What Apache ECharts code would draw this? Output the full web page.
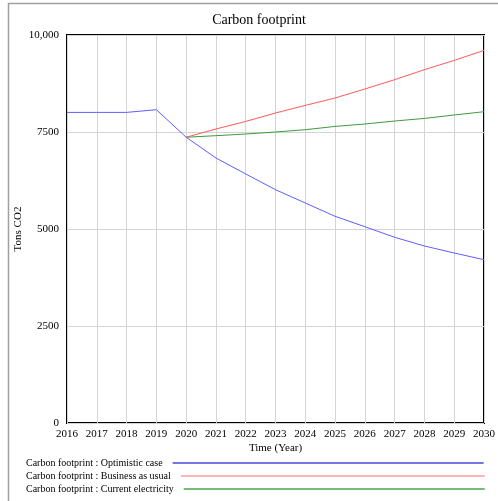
<!DOCTYPE html>
<html>
<head>
<meta charset="utf-8">
<script src="https://cdn.jsdelivr.net/npm/echarts@6/dist/echarts.min.js"></script>
<style>
html,body{margin:0;padding:0;background:#fff;}
#chart{width:498px;height:501px;}
</style>
</head>
<body>
<div id="chart"></div>
<script>
const years = [2016,2017,2018,2019,2020,2021,2022,2023,2024,2025,2026,2027,2028,2029,2030];
const optimistic = [8005,8005,8005,8075,7365,6830,6418,6013,5670,5327,5060,4786,4562,4381,4209];
const businessAsUsual = [null,null,null,null,7365,7577,7773,7990,8186,8376,8608,8848,9106,9345,9603];
const currentElectricity = [null,null,null,null,7365,7405,7448,7500,7559,7644,7706,7783,7850,7938,8023];
const seriesNames = ['Carbon footprint : Optimistic case','Carbon footprint : Business as usual','Carbon footprint : Current electricity'];
const yTickLabels = {0:'0',2500:'2500',5000:'5000',7500:'7500',10000:'10,000'};

const pairs = arr => years.map((y,i)=>[y,arr[i]]);
const serif = '"Liberation Serif","DejaVu Serif",serif';
const lineColors = ['#5e5eff','#ff5a5a','#3f9a3f'];
const legendColors = ['#4848d8','#ff9c9c','#45a845'];
const legendTops = [458,471,484];
const legendWidths = [311,304,301];

const chart = echarts.init(document.getElementById('chart'));
chart.setOption({
  animation:false,
  backgroundColor:'#fff',
  title:{text:'Carbon footprint',left:254,top:8,textAlign:'center',
    textStyle:{fontFamily:serif,fontSize:14,fontWeight:'normal',color:'#000'}},
  graphic:[
    {type:'line',shape:{x1:8,y1:3.5,x2:498,y2:3.5},style:{stroke:'#a0a0a0',lineWidth:1.5}},
    {type:'line',shape:{x1:8.5,y1:3,x2:8.5,y2:501},style:{stroke:'#a0a0a0',lineWidth:1.5}}
  ],
  legend: seriesNames.map((n,i)=>({
    data:[{name:n,itemStyle:{color:legendColors[i]}}],
    left:26, top:legendTops[i], align:'right', orient:'horizontal',
    icon:'rect', itemWidth:legendWidths[i], itemHeight:1.5, itemGap:0,
    padding:0, selectedMode:false,
    textStyle:{fontFamily:serif,fontSize:10,color:'#000',padding:[0,5,0,0]}
  })),
  grid:{left:67,right:14,top:35,bottom:78,show:true,borderColor:'#000',borderWidth:2},
  xAxis:{type:'value',min:2016,max:2030,interval:1,
    name:'Time (Year)',nameLocation:'middle',nameGap:20,nameMoveOverlap:false,
    nameTextStyle:{fontFamily:serif,fontSize:11,color:'#000'},
    axisLine:{show:false},axisTick:{show:false},
    axisLabel:{fontFamily:serif,fontSize:11,color:'#000',margin:6,formatter:v=>String(v)},
    splitLine:{show:true,lineStyle:{color:'#d4d4d4',width:1}}},
  yAxis:{type:'value',min:0,max:10000,interval:2500,
    name:'Tons CO2',nameLocation:'middle',nameGap:43,nameRotate:90,nameMoveOverlap:false,
    nameTextStyle:{fontFamily:serif,fontSize:11,color:'#000'},
    axisLine:{show:false},axisTick:{show:false},
    axisLabel:{fontFamily:serif,fontSize:11,color:'#000',margin:8,formatter:v=>yTickLabels[v]!==undefined?yTickLabels[v]:String(v)},
    splitLine:{show:true,lineStyle:{color:'#d4d4d4',width:1}}},
  series:[optimistic,businessAsUsual,currentElectricity].map((d,i)=>({
    name:seriesNames[i],type:'line',data:pairs(d),showSymbol:false,symbol:'none',
    lineStyle:{color:lineColors[i],width:1},itemStyle:{color:legendColors[i]},
    connectNulls:false,z:5-i
  }))
});
</script>
</body>
</html>
